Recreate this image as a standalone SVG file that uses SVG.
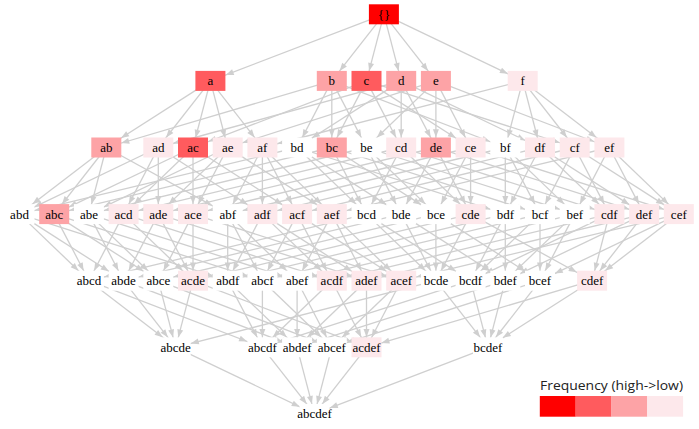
<svg xmlns="http://www.w3.org/2000/svg" width="699" height="429" viewBox="0 0 699 429">
<style>
.e path{stroke:#cfcfcf;stroke-width:1.3;fill:none}
.A{marker-end:url(#mA)}.B{marker-end:url(#mB)}.C{marker-end:url(#mC)}.D{marker-end:url(#mD)}
.E{marker-end:url(#mE)}.F{marker-end:url(#mF)}.H{marker-end:url(#mH)}
.n text{font-family:"Liberation Serif",serif;font-size:13px;text-anchor:middle;fill:#000}
.n rect{width:30px;height:20px}
.w{fill:#fff}.l1{fill:#f00}.l2{fill:#ff5b5e}.l3{fill:#fda3a6}.l4{fill:#fde8eb}
.ah{fill:#cfcfcf}
</style>
<defs>
<marker id="mA" markerUnits="userSpaceOnUse" markerWidth="8" markerHeight="6" refX="18.2" refY="3" orient="auto" overflow="visible"><path class="ah" d="M0,0L8,3L0,6z"/></marker>
<marker id="mB" markerUnits="userSpaceOnUse" markerWidth="8" markerHeight="6" refX="19.3" refY="3" orient="auto" overflow="visible"><path class="ah" d="M0,0L8,3L0,6z"/></marker>
<marker id="mC" markerUnits="userSpaceOnUse" markerWidth="8" markerHeight="6" refX="20.7" refY="3" orient="auto" overflow="visible"><path class="ah" d="M0,0L8,3L0,6z"/></marker>
<marker id="mD" markerUnits="userSpaceOnUse" markerWidth="8" markerHeight="6" refX="22.4" refY="3" orient="auto" overflow="visible"><path class="ah" d="M0,0L8,3L0,6z"/></marker>
<marker id="mE" markerUnits="userSpaceOnUse" markerWidth="8" markerHeight="6" refX="24.4" refY="3" orient="auto" overflow="visible"><path class="ah" d="M0,0L8,3L0,6z"/></marker>
<marker id="mF" markerUnits="userSpaceOnUse" markerWidth="8" markerHeight="6" refX="25.5" refY="3" orient="auto" overflow="visible"><path class="ah" d="M0,0L8,3L0,6z"/></marker>
<marker id="mH" markerUnits="userSpaceOnUse" markerWidth="8" markerHeight="6" refX="23.6" refY="3" orient="auto" overflow="visible"><path class="ah" d="M0,0L8,3L0,6z"/></marker>
</defs>
<g id="edges" class="e">
<path class="E" d="M383.9,14.3L210.4,80.9"/>
<path class="C" d="M383.9,14.3L331.8,80.9"/>
<path class="A" d="M383.9,14.3L366.5,80.9"/>
<path class="A" d="M383.9,14.3L401.2,80.9"/>
<path class="C" d="M383.9,14.3L435.9,80.9"/>
<path class="E" d="M383.9,14.3L522.7,80.9"/>

<path class="F" d="M210.4,80.9L106.3,147.5"/>
<path class="A" d="M210.4,80.9L193,147.5"/>
<path class="C" d="M210.4,80.9L158.3,147.5"/>
<path class="A" d="M210.4,80.9L227.7,147.5"/>
<path class="C" d="M210.4,80.9L262.4,147.5"/>
<path class="H" d="M331.8,80.9L106.3,147.5"/>
<path class="A" d="M331.8,80.9L331.8,147.5"/>
<path class="B" d="M331.8,80.9L297.1,147.5"/>
<path class="B" d="M331.8,80.9L366.5,147.5"/>
<path class="E" d="M331.8,80.9L505.3,147.5"/>
<path class="E" d="M366.5,80.9L193,147.5"/>
<path class="B" d="M366.5,80.9L331.8,147.5"/>
<path class="B" d="M366.5,80.9L401.2,147.5"/>
<path class="F" d="M366.5,80.9L470.6,147.5"/>
<path class="H" d="M366.5,80.9L574.7,147.5"/>
<path class="H" d="M401.2,80.9L158.3,147.5"/>
<path class="F" d="M401.2,80.9L297.1,147.5"/>
<path class="A" d="M401.2,80.9L401.2,147.5"/>
<path class="B" d="M401.2,80.9L435.9,147.5"/>
<path class="E" d="M401.2,80.9L540,147.5"/>
<path class="H" d="M435.9,80.9L227.7,147.5"/>
<path class="D" d="M435.9,80.9L366.5,147.5"/>
<path class="B" d="M435.9,80.9L470.6,147.5"/>
<path class="A" d="M435.9,80.9L435.9,147.5"/>
<path class="E" d="M435.9,80.9L609.4,147.5"/>
<path class="H" d="M522.7,80.9L262.4,147.5"/>
<path class="A" d="M522.7,80.9L505.3,147.5"/>
<path class="C" d="M522.7,80.9L574.7,147.5"/>
<path class="A" d="M522.7,80.9L540,147.5"/>
<path class="E" d="M522.7,80.9L609.4,147.5"/>

<path class="C" d="M106.3,147.5L54.2,214.1"/>
<path class="E" d="M106.3,147.5L19.5,214.1"/>
<path class="A" d="M106.3,147.5L88.9,214.1"/>
<path class="F" d="M106.3,147.5L227.7,214.1"/>
<path class="E" d="M158.3,147.5L19.5,214.1"/>
<path class="B" d="M158.3,147.5L123.6,214.1"/>
<path class="A" d="M158.3,147.5L158.3,214.1"/>
<path class="F" d="M158.3,147.5L262.4,214.1"/>
<path class="E" d="M193,147.5L54.2,214.1"/>
<path class="D" d="M193,147.5L123.6,214.1"/>
<path class="A" d="M193,147.5L193,214.1"/>
<path class="F" d="M193,147.5L297.1,214.1"/>
<path class="E" d="M227.7,147.5L88.9,214.1"/>
<path class="D" d="M227.7,147.5L158.3,214.1"/>
<path class="B" d="M227.7,147.5L193,214.1"/>
<path class="F" d="M227.7,147.5L331.8,214.1"/>
<path class="B" d="M262.4,147.5L227.7,214.1"/>
<path class="A" d="M262.4,147.5L262.4,214.1"/>
<path class="B" d="M262.4,147.5L297.1,214.1"/>
<path class="D" d="M262.4,147.5L331.8,214.1"/>
<path class="H" d="M297.1,147.5L19.5,214.1"/>
<path class="D" d="M297.1,147.5L366.5,214.1"/>
<path class="F" d="M297.1,147.5L401.2,214.1"/>
<path class="H" d="M297.1,147.5L505.3,214.1"/>
<path class="H" d="M331.8,147.5L54.2,214.1"/>
<path class="B" d="M331.8,147.5L366.5,214.1"/>
<path class="F" d="M331.8,147.5L435.9,214.1"/>
<path class="H" d="M331.8,147.5L540,214.1"/>
<path class="H" d="M366.5,147.5L88.9,214.1"/>
<path class="B" d="M366.5,147.5L401.2,214.1"/>
<path class="D" d="M366.5,147.5L435.9,214.1"/>
<path class="H" d="M366.5,147.5L574.7,214.1"/>
<path class="H" d="M401.2,147.5L123.6,214.1"/>
<path class="B" d="M401.2,147.5L366.5,214.1"/>
<path class="D" d="M401.2,147.5L470.6,214.1"/>
<path class="H" d="M401.2,147.5L609.4,214.1"/>
<path class="H" d="M435.9,147.5L158.3,214.1"/>
<path class="B" d="M435.9,147.5L401.2,214.1"/>
<path class="B" d="M435.9,147.5L470.6,214.1"/>
<path class="H" d="M435.9,147.5L644.1,214.1"/>
<path class="H" d="M470.6,147.5L193,214.1"/>
<path class="B" d="M470.6,147.5L435.9,214.1"/>
<path class="A" d="M470.6,147.5L470.6,214.1"/>
<path class="H" d="M470.6,147.5L678.8,214.1"/>
<path class="H" d="M505.3,147.5L227.7,214.1"/>
<path class="A" d="M505.3,147.5L505.3,214.1"/>
<path class="B" d="M505.3,147.5L540,214.1"/>
<path class="D" d="M505.3,147.5L574.7,214.1"/>
<path class="H" d="M540,147.5L262.4,214.1"/>
<path class="B" d="M540,147.5L505.3,214.1"/>
<path class="D" d="M540,147.5L609.4,214.1"/>
<path class="F" d="M540,147.5L644.1,214.1"/>
<path class="H" d="M574.7,147.5L297.1,214.1"/>
<path class="B" d="M574.7,147.5L540,214.1"/>
<path class="B" d="M574.7,147.5L609.4,214.1"/>
<path class="F" d="M574.7,147.5L678.8,214.1"/>
<path class="H" d="M609.4,147.5L331.8,214.1"/>
<path class="B" d="M609.4,147.5L574.7,214.1"/>
<path class="B" d="M609.4,147.5L644.1,214.1"/>
<path class="D" d="M609.4,147.5L678.8,214.1"/>

<path class="D" d="M19.5,214.1L88.9,280.7"/>
<path class="F" d="M19.5,214.1L123.6,280.7"/>
<path class="H" d="M19.5,214.1L227.7,280.7"/>
<path class="B" d="M54.2,214.1L88.9,280.7"/>
<path class="F" d="M54.2,214.1L158.3,280.7"/>
<path class="H" d="M54.2,214.1L262.4,280.7"/>
<path class="B" d="M88.9,214.1L123.6,280.7"/>
<path class="D" d="M88.9,214.1L158.3,280.7"/>
<path class="H" d="M88.9,214.1L297.1,280.7"/>
<path class="B" d="M123.6,214.1L88.9,280.7"/>
<path class="D" d="M123.6,214.1L193,280.7"/>
<path class="H" d="M123.6,214.1L331.8,280.7"/>
<path class="B" d="M158.3,214.1L123.6,280.7"/>
<path class="B" d="M158.3,214.1L193,280.7"/>
<path class="H" d="M158.3,214.1L366.5,280.7"/>
<path class="B" d="M193,214.1L158.3,280.7"/>
<path class="A" d="M193,214.1L193,280.7"/>
<path class="H" d="M193,214.1L401.2,280.7"/>
<path class="A" d="M227.7,214.1L227.7,280.7"/>
<path class="B" d="M227.7,214.1L262.4,280.7"/>
<path class="D" d="M227.7,214.1L297.1,280.7"/>
<path class="B" d="M262.4,214.1L227.7,280.7"/>
<path class="D" d="M262.4,214.1L331.8,280.7"/>
<path class="F" d="M262.4,214.1L366.5,280.7"/>
<path class="B" d="M297.1,214.1L262.4,280.7"/>
<path class="B" d="M297.1,214.1L331.8,280.7"/>
<path class="F" d="M297.1,214.1L401.2,280.7"/>
<path class="B" d="M331.8,214.1L297.1,280.7"/>
<path class="B" d="M331.8,214.1L366.5,280.7"/>
<path class="D" d="M331.8,214.1L401.2,280.7"/>
<path class="H" d="M366.5,214.1L88.9,280.7"/>
<path class="D" d="M366.5,214.1L435.9,280.7"/>
<path class="F" d="M366.5,214.1L470.6,280.7"/>
<path class="H" d="M401.2,214.1L123.6,280.7"/>
<path class="B" d="M401.2,214.1L435.9,280.7"/>
<path class="F" d="M401.2,214.1L505.3,280.7"/>
<path class="H" d="M435.9,214.1L158.3,280.7"/>
<path class="A" d="M435.9,214.1L435.9,280.7"/>
<path class="F" d="M435.9,214.1L540,280.7"/>
<path class="H" d="M470.6,214.1L193,280.7"/>
<path class="B" d="M470.6,214.1L435.9,280.7"/>
<path class="F" d="M470.6,214.1L592.1,280.7"/>
<path class="H" d="M505.3,214.1L227.7,280.7"/>
<path class="B" d="M505.3,214.1L470.6,280.7"/>
<path class="A" d="M505.3,214.1L505.3,280.7"/>
<path class="H" d="M540,214.1L262.4,280.7"/>
<path class="D" d="M540,214.1L470.6,280.7"/>
<path class="A" d="M540,214.1L540,280.7"/>
<path class="H" d="M574.7,214.1L297.1,280.7"/>
<path class="D" d="M574.7,214.1L505.3,280.7"/>
<path class="B" d="M574.7,214.1L540,280.7"/>
<path class="H" d="M609.4,214.1L331.8,280.7"/>
<path class="E" d="M609.4,214.1L470.6,280.7"/>
<path class="A" d="M609.4,214.1L592.1,280.7"/>
<path class="H" d="M644.1,214.1L366.5,280.7"/>
<path class="E" d="M644.1,214.1L505.3,280.7"/>
<path class="C" d="M644.1,214.1L592.1,280.7"/>
<path class="H" d="M678.8,214.1L401.2,280.7"/>
<path class="E" d="M678.8,214.1L540,280.7"/>
<path class="E" d="M678.8,214.1L592.1,280.7"/>

<path class="E" d="M88.9,280.7L175.7,347.3"/>
<path class="E" d="M88.9,280.7L262.4,347.3"/>
<path class="C" d="M123.6,280.7L175.7,347.3"/>
<path class="E" d="M123.6,280.7L297.1,347.3"/>
<path class="A" d="M158.3,280.7L175.7,347.3"/>
<path class="E" d="M158.3,280.7L331.8,347.3"/>
<path class="A" d="M193,280.7L175.7,347.3"/>
<path class="E" d="M193,280.7L366.5,347.3"/>
<path class="B" d="M227.7,280.7L262.4,347.3"/>
<path class="D" d="M227.7,280.7L297.1,347.3"/>
<path class="A" d="M262.4,280.7L262.4,347.3"/>
<path class="D" d="M262.4,280.7L331.8,347.3"/>
<path class="A" d="M297.1,280.7L297.1,347.3"/>
<path class="B" d="M297.1,280.7L331.8,347.3"/>
<path class="D" d="M331.8,280.7L262.4,347.3"/>
<path class="B" d="M331.8,280.7L366.5,347.3"/>
<path class="D" d="M366.5,280.7L297.1,347.3"/>
<path class="A" d="M366.5,280.7L366.5,347.3"/>
<path class="D" d="M401.2,280.7L331.8,347.3"/>
<path class="B" d="M401.2,280.7L366.5,347.3"/>
<path class="H" d="M435.9,280.7L175.7,347.3"/>
<path class="C" d="M435.9,280.7L488,347.3"/>
<path class="H" d="M470.6,280.7L262.4,347.3"/>
<path class="A" d="M470.6,280.7L488,347.3"/>
<path class="H" d="M505.3,280.7L297.1,347.3"/>
<path class="A" d="M505.3,280.7L488,347.3"/>
<path class="H" d="M540,280.7L331.8,347.3"/>
<path class="C" d="M540,280.7L488,347.3"/>
<path class="H" d="M592.1,280.7L366.5,347.3"/>
<path class="F" d="M592.1,280.7L488,347.3"/>

<path class="E" d="M175.7,347.3L314.5,413.9"/>
<path class="C" d="M262.4,347.3L314.5,413.9"/>
<path class="A" d="M297.1,347.3L314.5,413.9"/>
<path class="A" d="M331.8,347.3L314.5,413.9"/>
<path class="C" d="M366.5,347.3L314.5,413.9"/>
<path class="E" d="M488,347.3L314.5,413.9"/>
</g>

<g id="n-empty" class="n"><rect class="l1" x="368.9" y="4.3"/><text x="383.9" y="18.8">{}</text></g>

<g id="n-a" class="n"><rect class="l2" x="195.4" y="70.9"/><text x="210.4" y="85.4">a</text></g>
<g id="n-b" class="n"><rect class="l3" x="316.8" y="70.9"/><text x="331.8" y="85.4">b</text></g>
<g id="n-c" class="n"><rect class="l2" x="351.5" y="70.9"/><text x="366.5" y="85.4">c</text></g>
<g id="n-d" class="n"><rect class="l3" x="386.2" y="70.9"/><text x="401.2" y="85.4">d</text></g>
<g id="n-e" class="n"><rect class="l3" x="420.9" y="70.9"/><text x="435.9" y="85.4">e</text></g>
<g id="n-f" class="n"><rect class="l4" x="507.7" y="70.9"/><text x="522.7" y="85.4">f</text></g>

<g id="n-ab" class="n"><rect class="l3" x="91.3" y="137.5"/><text x="106.3" y="152">ab</text></g>
<g id="n-ad" class="n"><rect class="l4" x="143.3" y="137.5"/><text x="158.3" y="152">ad</text></g>
<g id="n-ac" class="n"><rect class="l2" x="178" y="137.5"/><text x="193" y="152">ac</text></g>
<g id="n-ae" class="n"><rect class="l4" x="212.7" y="137.5"/><text x="227.7" y="152">ae</text></g>
<g id="n-af" class="n"><rect class="l4" x="247.4" y="137.5"/><text x="262.4" y="152">af</text></g>
<g id="n-bd" class="n"><rect class="w" x="282.1" y="137.5"/><text x="297.1" y="152">bd</text></g>
<g id="n-bc" class="n"><rect class="l3" x="316.8" y="137.5"/><text x="331.8" y="152">bc</text></g>
<g id="n-be" class="n"><rect class="w" x="351.5" y="137.5"/><text x="366.5" y="152">be</text></g>
<g id="n-cd" class="n"><rect class="l4" x="386.2" y="137.5"/><text x="401.2" y="152">cd</text></g>
<g id="n-de" class="n"><rect class="l3" x="420.9" y="137.5"/><text x="435.9" y="152">de</text></g>
<g id="n-ce" class="n"><rect class="l4" x="455.6" y="137.5"/><text x="470.6" y="152">ce</text></g>
<g id="n-bf" class="n"><rect class="w" x="490.3" y="137.5"/><text x="505.3" y="152">bf</text></g>
<g id="n-df" class="n"><rect class="l4" x="525" y="137.5"/><text x="540" y="152">df</text></g>
<g id="n-cf" class="n"><rect class="l4" x="559.7" y="137.5"/><text x="574.7" y="152">cf</text></g>
<g id="n-ef" class="n"><rect class="l4" x="594.4" y="137.5"/><text x="609.4" y="152">ef</text></g>

<g id="n-abd" class="n"><rect class="w" x="4.5" y="204.1"/><text x="19.5" y="218.6">abd</text></g>
<g id="n-abc" class="n"><rect class="l3" x="39.2" y="204.1"/><text x="54.2" y="218.6">abc</text></g>
<g id="n-abe" class="n"><rect class="w" x="73.9" y="204.1"/><text x="88.9" y="218.6">abe</text></g>
<g id="n-acd" class="n"><rect class="l4" x="108.6" y="204.1"/><text x="123.6" y="218.6">acd</text></g>
<g id="n-ade" class="n"><rect class="l4" x="143.3" y="204.1"/><text x="158.3" y="218.6">ade</text></g>
<g id="n-ace" class="n"><rect class="l4" x="178" y="204.1"/><text x="193" y="218.6">ace</text></g>
<g id="n-abf" class="n"><rect class="w" x="212.7" y="204.1"/><text x="227.7" y="218.6">abf</text></g>
<g id="n-adf" class="n"><rect class="l4" x="247.4" y="204.1"/><text x="262.4" y="218.6">adf</text></g>
<g id="n-acf" class="n"><rect class="l4" x="282.1" y="204.1"/><text x="297.1" y="218.6">acf</text></g>
<g id="n-aef" class="n"><rect class="l4" x="316.8" y="204.1"/><text x="331.8" y="218.6">aef</text></g>
<g id="n-bcd" class="n"><rect class="w" x="351.5" y="204.1"/><text x="366.5" y="218.6">bcd</text></g>
<g id="n-bde" class="n"><rect class="w" x="386.2" y="204.1"/><text x="401.2" y="218.6">bde</text></g>
<g id="n-bce" class="n"><rect class="w" x="420.9" y="204.1"/><text x="435.9" y="218.6">bce</text></g>
<g id="n-cde" class="n"><rect class="l4" x="455.6" y="204.1"/><text x="470.6" y="218.6">cde</text></g>
<g id="n-bdf" class="n"><rect class="w" x="490.3" y="204.1"/><text x="505.3" y="218.6">bdf</text></g>
<g id="n-bcf" class="n"><rect class="w" x="525" y="204.1"/><text x="540" y="218.6">bcf</text></g>
<g id="n-bef" class="n"><rect class="w" x="559.7" y="204.1"/><text x="574.7" y="218.6">bef</text></g>
<g id="n-cdf" class="n"><rect class="l4" x="594.4" y="204.1"/><text x="609.4" y="218.6">cdf</text></g>
<g id="n-def" class="n"><rect class="l4" x="629.1" y="204.1"/><text x="644.1" y="218.6">def</text></g>
<g id="n-cef" class="n"><rect class="l4" x="663.8" y="204.1"/><text x="678.8" y="218.6">cef</text></g>

<g id="n-abcd" class="n"><rect class="w" x="73.9" y="270.7"/><text x="88.9" y="285.2">abcd</text></g>
<g id="n-abde" class="n"><rect class="w" x="108.6" y="270.7"/><text x="123.6" y="285.2">abde</text></g>
<g id="n-abce" class="n"><rect class="w" x="143.3" y="270.7"/><text x="158.3" y="285.2">abce</text></g>
<g id="n-acde" class="n"><rect class="l4" x="178" y="270.7"/><text x="193" y="285.2">acde</text></g>
<g id="n-abdf" class="n"><rect class="w" x="212.7" y="270.7"/><text x="227.7" y="285.2">abdf</text></g>
<g id="n-abcf" class="n"><rect class="w" x="247.4" y="270.7"/><text x="262.4" y="285.2">abcf</text></g>
<g id="n-abef" class="n"><rect class="w" x="282.1" y="270.7"/><text x="297.1" y="285.2">abef</text></g>
<g id="n-acdf" class="n"><rect class="l4" x="316.8" y="270.7"/><text x="331.8" y="285.2">acdf</text></g>
<g id="n-adef" class="n"><rect class="l4" x="351.5" y="270.7"/><text x="366.5" y="285.2">adef</text></g>
<g id="n-acef" class="n"><rect class="l4" x="386.2" y="270.7"/><text x="401.2" y="285.2">acef</text></g>
<g id="n-bcde" class="n"><rect class="w" x="420.9" y="270.7"/><text x="435.9" y="285.2">bcde</text></g>
<g id="n-bcdf" class="n"><rect class="w" x="455.6" y="270.7"/><text x="470.6" y="285.2">bcdf</text></g>
<g id="n-bdef" class="n"><rect class="w" x="490.3" y="270.7"/><text x="505.3" y="285.2">bdef</text></g>
<g id="n-bcef" class="n"><rect class="w" x="525" y="270.7"/><text x="540" y="285.2">bcef</text></g>
<g id="n-cdef" class="n"><rect class="l4" x="577.1" y="270.7"/><text x="592.1" y="285.2">cdef</text></g>

<g id="n-abcde" class="n"><rect class="w" x="160.7" y="337.3"/><text x="175.7" y="351.8">abcde</text></g>
<g id="n-abcdf" class="n"><rect class="w" x="247.4" y="337.3"/><text x="262.4" y="351.8">abcdf</text></g>
<g id="n-abdef" class="n"><rect class="w" x="282.1" y="337.3"/><text x="297.1" y="351.8">abdef</text></g>
<g id="n-abcef" class="n"><rect class="w" x="316.8" y="337.3"/><text x="331.8" y="351.8">abcef</text></g>
<g id="n-acdef" class="n"><rect class="l4" x="351.5" y="337.3"/><text x="366.5" y="351.8">acdef</text></g>
<g id="n-bcdef" class="n"><rect class="w" x="473" y="337.3"/><text x="488" y="351.8">bcdef</text></g>

<g id="n-abcdef" class="n"><rect class="w" x="299.5" y="403.9"/><text x="314.5" y="418.4">abcdef</text></g>

<g id="legend">
<text x="540" y="390" font-family="'Open Sans','Liberation Sans',sans-serif" font-size="13.5" fill="#222" textLength="143" lengthAdjust="spacingAndGlyphs">Frequency (high-&gt;low)</text>
<rect class="l1" x="539.8" y="396" width="35.9" height="20.7"/>
<rect class="l2" x="575.6" y="396" width="35.9" height="20.7"/>
<rect class="l3" x="611.4" y="396" width="35.9" height="20.7"/>
<rect class="l4" x="647.2" y="396" width="35.9" height="20.7"/>
</g>
</svg>
